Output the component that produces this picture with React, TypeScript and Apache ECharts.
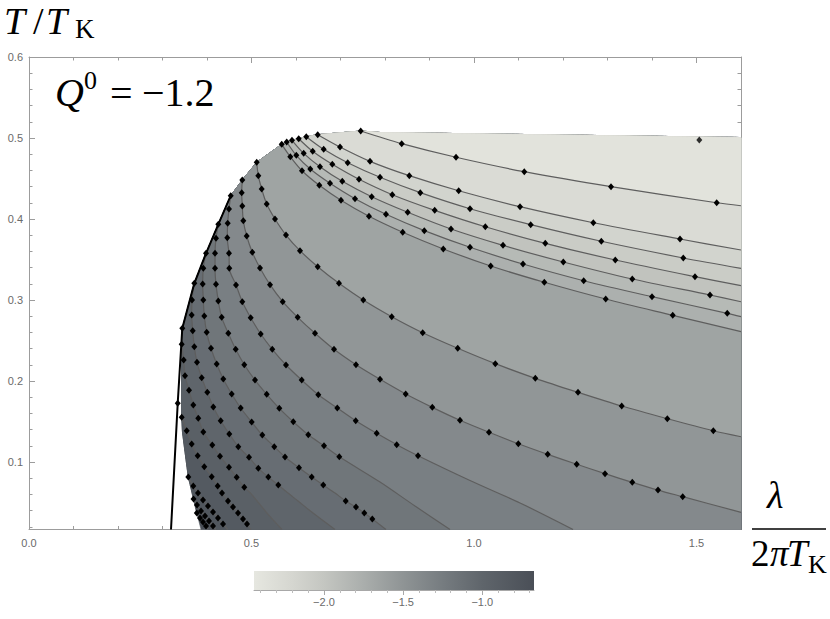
import React, { useEffect, useRef } from "react";
import * as echarts from "echarts";

// ---------- axes ----------
const X_MIN = 0;
const X_MAX = 1.6;
const Y_MIN = 0.0167;
const Y_MAX = 0.6;
const xMajorTicks = [0, 0.5, 1.0, 1.5];
const xMinorTicks = [0.1, 0.2, 0.3, 0.4, 0.6, 0.7, 0.8, 0.9, 1.1, 1.2, 1.3, 1.4];
const yMajorTicks = [0.1, 0.2, 0.3, 0.4, 0.5, 0.6];
const yMinorTicks = [0.02, 0.04, 0.06, 0.08, 0.12, 0.14, 0.16, 0.18, 0.22, 0.24, 0.26, 0.28, 0.32, 0.34, 0.36, 0.38, 0.42, 0.44, 0.46, 0.48, 0.52, 0.54, 0.56, 0.58];

// ---------- colour bar ----------
const CB_MIN = -2.442;
const CB_MAX = -0.673;
const cbMajorTicks = [-2.0, -1.5, -1.0];
const cbMinorTicks = [-2.4, -2.3, -2.2, -2.1, -1.9, -1.8, -1.7, -1.6, -1.4, -1.3, -1.2, -1.1, -0.9, -0.8, -0.7];
const cbStopValues = [-2.442, -2.2, -2.0, -1.75, -1.5, -1.25, -1.0, -0.673];
const cbStopColors = ["#e6e7e0", "#d5d6d0", "#c4c6c1", "#aaaeac", "#8f9495", "#767c80", "#5f656b", "#4a4f57"];

// ---------- domain boundary (clockwise from bottom-left) ----------
const boundary = [
  [0.3865, 0.0167], [0.3753, 0.0407], [0.3685, 0.0568], [0.358, 0.0815], [0.3506, 0.1123],
  [0.3449, 0.137], [0.3431, 0.1556], [0.3427, 0.1827], [0.3427, 0.2136], [0.3431, 0.2457],
  [0.3445, 0.2651], [0.3715, 0.3206], [0.3978, 0.3577], [0.4254, 0.3935], [0.4533, 0.4288],
  [0.4793, 0.4481], [0.5117, 0.47], [0.5679, 0.4922], [0.5791, 0.4951], [0.591, 0.4972],
  [0.6061, 0.4991], [0.6231, 0.5016], [0.6488, 0.5041], [0.7454, 0.5086], [0.7888, 0.5068],
  [1.6, 0.5006], [1.6, 0.0167],
];

// ---------- contour lines (third value 0 = no marker) ----------
const U1 = [[0.7454, 0.5086], [0.8375, 0.493], [0.9596, 0.4762], [1.113, 0.4584], [1.3079, 0.4399], [1.5454, 0.4201], [1.6, 0.4164, 0]];
const U2 = [[0.6488, 0.5041], [0.6989, 0.4889], [0.7663, 0.4712], [0.8546, 0.4535], [0.9656, 0.4349], [1.1034, 0.4152], [1.2681, 0.3954], [1.4629, 0.3753], [1.6, 0.3617, 0]];
const U3 = [[0.6231, 0.5016], [0.6622, 0.486], [0.7162, 0.4695], [0.7888, 0.4515], [0.8793, 0.4325], [0.991, 0.4127], [1.1274, 0.393], [1.2861, 0.3725], [1.4703, 0.3519], [1.6, 0.3391, 0]];
const U4 = [[0.6061, 0.4991], [0.6375, 0.4836], [0.6816, 0.4675], [0.7416, 0.449], [0.8164, 0.43], [0.9117, 0.4107], [1.0254, 0.3905], [1.1602, 0.37], [1.3175, 0.3494], [1.4966, 0.3288], [1.6, 0.3177, 0]];
const U5 = [[0.591, 0.4972], [0.6173, 0.4811], [0.6539, 0.4646], [0.704, 0.4465], [0.7701, 0.4275], [0.851, 0.4083], [0.9483, 0.3877], [1.0652, 0.3675], [1.2007, 0.3469], [1.3557, 0.3259], [1.5303, 0.3062], [1.6, 0.2979, 0]];
const U6 = [[0.5791, 0.4951], [0.6007, 0.4786], [0.6321, 0.4617], [0.6764, 0.4441], [0.7326, 0.4251], [0.8022, 0.4058], [0.8883, 0.3856], [0.991, 0.3651], [1.1101, 0.3444], [1.2465, 0.3238], [1.4, 0.3041], [1.5691, 0.2836], [1.6, 0.2794, 0]];
const U7 = [[0.5679, 0.4922], [0.5872, 0.4769], [0.6135, 0.4596], [0.6524, 0.4416], [0.7011, 0.4231], [0.764, 0.4033], [0.8398, 0.3836], [0.931, 0.363], [1.0375, 0.342], [1.158, 0.3219], [1.296, 0.3012], [1.4466, 0.2811], [1.6, 0.2609, 0]];
const L6 = [[0.5117, 0.47], [0.5153, 0.4535], [0.5229, 0.437], [0.5342, 0.4185], [0.5528, 0.4], [0.5775, 0.3802], [0.609, 0.3609], [0.6488, 0.3411], [0.6966, 0.3206], [0.7512, 0.3], [0.8151, 0.2794], [0.8847, 0.2596], [0.9634, 0.2404], [1.0479, 0.2214], [1.1378, 0.2033], [1.2337, 0.186], [1.3319, 0.1691], [1.4344, 0.1535], [1.5378, 0.1386], [1.6, 0.1312, 0]];
const L5 = [[0.4793, 0.4481], [0.478, 0.4325], [0.4793, 0.416], [0.4816, 0.3979], [0.4892, 0.379], [0.5018, 0.3589], [0.5191, 0.3395], [0.5416, 0.3189], [0.5701, 0.2979], [0.6038, 0.2786], [0.6427, 0.2589], [0.6854, 0.2391], [0.7348, 0.2201], [0.7888, 0.2021], [0.8465, 0.184], [0.9063, 0.1675], [0.9685, 0.1515], [1.0337, 0.1367], [1.0996, 0.1226], [1.1656, 0.1095], [1.2308, 0.0972], [1.2944, 0.0856], [1.3557, 0.0749], [1.4135, 0.0654], [1.469, 0.0572], [1.6, 0.0379, 0]];
const L4 = [[0.4533, 0.4288], [0.4494, 0.4123], [0.4465, 0.3947], [0.4456, 0.3769], [0.4494, 0.3577], [0.4501, 0.3391], [0.4652, 0.3185], [0.4793, 0.2979], [0.4982, 0.2781], [0.5207, 0.258], [0.5467, 0.2391], [0.5775, 0.2198], [0.6128, 0.2012], [0.6501, 0.1831], [0.6928, 0.1667], [0.7342, 0.151], [0.7813, 0.1354], [0.8263, 0.1214], [0.8742, 0.1078], [0.991, 0.0772, 0], [1.1034, 0.0494, 0], [1.2225, 0.0167, 0]];
const L3 = [[0.4254, 0.3935], [0.4202, 0.3762], [0.418, 0.3577], [0.418, 0.3391], [0.4202, 0.3194], [0.4254, 0.2988], [0.433, 0.2786], [0.4479, 0.2589], [0.4645, 0.2391], [0.4838, 0.2201], [0.5079, 0.2012], [0.5342, 0.1836], [0.5625, 0.1663], [0.5939, 0.1498], [0.6276, 0.1337], [0.6629, 0.1201], [0.6973, 0.1065], [0.7888, 0.0753, 0], [0.8674, 0.0457, 0], [0.9461, 0.0167, 0]];
const L2 = [[0.3978, 0.3577], [0.3917, 0.3391], [0.3903, 0.3198], [0.3917, 0.3], [0.3939, 0.2802], [0.3993, 0.2601], [0.409, 0.2404], [0.4218, 0.221], [0.4366, 0.2025], [0.4555, 0.184], [0.4757, 0.1667], [0.5004, 0.1494], [0.5243, 0.1333], [0.5512, 0.1189], [0.5753, 0.1062], [0.6067, 0.093], [0.6353, 0.0815], [0.6613, 0.0716], [0.6876, 0.0617, 0], [0.7117, 0.0519], [0.7348, 0.0444], [0.7535, 0.037], [0.7715, 0.0296], [0.8022, 0.0167, 0]];
const L1 = [[0.3715, 0.3206], [0.3663, 0.3], [0.3656, 0.2815], [0.3679, 0.2621], [0.3715, 0.2423], [0.3775, 0.2231], [0.3881, 0.2041], [0.4007, 0.186], [0.4142, 0.1679], [0.4308, 0.151], [0.4501, 0.1346], [0.4703, 0.1189], [0.4944, 0.1058], [0.5153, 0.0922], [0.5378, 0.0815], [0.5602, 0.0716], [0.582, 0.0617, 0], [0.6045, 0.0519, 0], [0.6382, 0.037, 0], [0.6876, 0.0167, 0]];
const L0 = [[0.3431, 0.2453], [0.3476, 0.2259], [0.3506, 0.2065], [0.3596, 0.1885], [0.3692, 0.1704], [0.3804, 0.154], [0.3917, 0.137], [0.4119, 0.121], [0.4292, 0.107], [0.4494, 0.0935], [0.4667, 0.0811], [0.4838, 0.0688], [0.4978, 0.0617, 0], [0.5124, 0.0519, 0], [0.5348, 0.037, 0], [0.5685, 0.0167, 0]];
const Lm1 = [[0.3431, 0.1552], [0.3544, 0.1386], [0.3656, 0.1222], [0.3791, 0.1078], [0.3939, 0.0942], [0.4106, 0.0819], [0.424, 0.0704], [0.4337, 0.0617], [0.4472, 0.0519], [0.4584, 0.0444], [0.4697, 0.037], [0.4809, 0.0296], [0.4899, 0.0235], [0.4989, 0.0167, 0]];
const Lm2 = [[0.358, 0.0815], [0.3692, 0.0704], [0.3798, 0.0617], [0.391, 0.0531], [0.4022, 0.0457], [0.4135, 0.0383], [0.4247, 0.0309], [0.436, 0.0235], [0.4461, 0.0167, 0]];
const Lm3 = [[0.3697, 0.0543], [0.3775, 0.0469], [0.3865, 0.0395], [0.3955, 0.0333], [0.4045, 0.0272], [0.4135, 0.021], [0.4202, 0.0167, 0]];
const Lm4 = [[0.3771, 0.037], [0.3843, 0.0309], [0.391, 0.0259], [0.3978, 0.021], [0.4034, 0.0167, 0]];

// contours from darkest to lightest, with the field value of the band on their light side
const contourOrder = [Lm4, Lm3, Lm2, Lm1, L0, L1, L2, L3, L4, L5, L6, U7, U6, U5, U4, U3, U2, U1];
const baseBandValue = -0.69;
const bandValues = [-0.73, -0.77, -0.83, -0.92, -1.0, -1.09, -1.18, -1.28, -1.39, -1.52, -1.65, -1.77, -1.87, -1.97, -2.07, -2.17, -2.27, -2.38];

// black boundary curve
const blackLine = [[0.3191, 0.0167, 0], [0.3342, 0.1725], [0.3445, 0.2651], [0.3715, 0.3206, 0], [0.3978, 0.3577, 0], [0.4254, 0.3935, 0], [0.4533, 0.4288, 0]];
const isolatedPoints = [[1.5063, 0.4975]];

function hexToRgb(h: string) {
  const n = parseInt(h.slice(1), 16);
  return [(n >> 16) & 255, (n >> 8) & 255, n & 255];
}
function cmap(v: number) {
  const vs = cbStopValues;
  if (v <= vs[0]) return cbStopColors[0];
  if (v >= vs[vs.length - 1]) return cbStopColors[vs.length - 1];
  let i = 0;
  while (v > vs[i + 1]) i++;
  const t = (v - vs[i]) / (vs[i + 1] - vs[i]);
  const a = hexToRgb(cbStopColors[i]);
  const b = hexToRgb(cbStopColors[i + 1]);
  const c = a.map((x, k) => Math.round(x + (b[k] - x) * t));
  return `rgb(${c[0]},${c[1]},${c[2]})`;
}

function project(B: number[][], P: number[]) {
  let best = Infinity;
  let param = 0;
  const n = B.length;
  for (let k = 0; k < n; k++) {
    const A = B[k];
    const C = B[(k + 1) % n];
    const dx = C[0] - A[0];
    const dy = C[1] - A[1];
    const L2 = dx * dx + dy * dy || 1;
    let t = ((P[0] - A[0]) * dx + (P[1] - A[1]) * dy) / L2;
    t = Math.max(0, Math.min(1, t));
    const qx = A[0] + dx * t - P[0];
    const qy = A[1] + dy * t - P[1];
    const d = qx * qx + qy * qy;
    if (d < best) {
      best = d;
      param = k + t;
    }
  }
  return param;
}

function lineData(pts: number[][]) {
  return pts.map((p) => (p[2] === 0 ? { value: [p[0], p[1]], symbol: "none" } : [p[0], p[1]]));
}

const SERIF = "'Liberation Serif', 'DejaVu Serif', serif";
const SANS = "'Liberation Sans', Arial, sans-serif";
const AXIS_GRAY = "#9c9c9c";
const LABEL_GRAY = "#6a6a6a";

function mathText(x: number, y: number, text: string, size: number, italic: boolean) {
  return {
    type: "text",
    x,
    y,
    style: { text, fontFamily: SERIF, fontStyle: italic ? "italic" : "normal", fontSize: size, fill: "#000", verticalAlign: "middle" },
  };
}

function buildOption() {
  const fillSeries = {
    type: "custom",
    xAxisIndex: 0,
    yAxisIndex: 0,
    z: 1,
    silent: true,
    data: [baseBandValue, ...bandValues].map((v, i) => [i, v]),
    renderItem: (params: any, api: any) => {
      const i = params.dataIndex;
      const B = boundary.map((p) => api.coord([p[0], p[1]]));
      let pts: number[][];
      let val: number;
      if (i === 0) {
        pts = B;
        val = baseBandValue;
      } else {
        const C = contourOrder[i - 1].map((p) => api.coord([p[0], p[1]]));
        const sS = project(B, C[0]);
        const sE = project(B, C[C.length - 1]);
        pts = C.slice();
        for (let j = Math.floor(sE); j > sS; j--) {
          if (j < B.length) pts.push(B[j]);
        }
        val = bandValues[i - 1];
      }
      return { type: "polygon", shape: { points: pts }, style: { fill: cmap(val), stroke: cmap(val), lineWidth: 0.5 } };
    },
  };

  const contourSeries = contourOrder.map((c) => ({
    type: "line",
    xAxisIndex: 0,
    yAxisIndex: 0,
    z: 3,
    data: lineData(c),
    smooth: 0.3,
    symbol: "diamond",
    symbolSize: [6, 7],
    showAllSymbol: true,
    itemStyle: { color: "#000" },
    lineStyle: { color: "#5e5e5e", width: 1.2 },
    silent: true,
  }));

  const blackSeries = {
    type: "line",
    xAxisIndex: 0,
    yAxisIndex: 0,
    z: 4,
    data: lineData(blackLine),
    symbol: "diamond",
    symbolSize: [6, 7],
    showAllSymbol: true,
    itemStyle: { color: "#000" },
    lineStyle: { color: "#000", width: 2 },
    silent: true,
  };

  const isoSeries = {
    type: "scatter",
    xAxisIndex: 0,
    yAxisIndex: 0,
    z: 4,
    data: isolatedPoints,
    symbol: "diamond",
    symbolSize: [6, 7],
    itemStyle: { color: "#000" },
  };

  const cbSeries = {
    type: "custom",
    xAxisIndex: 4,
    yAxisIndex: 4,
    z: 2,
    silent: true,
    data: [[CB_MIN, 0]],
    renderItem: (params: any, api: any) => {
      const p0 = api.coord([CB_MIN, 1]);
      const p1 = api.coord([CB_MAX, 0]);
      const stops = cbStopValues.map((v, k) => ({ offset: (v - CB_MIN) / (CB_MAX - CB_MIN), color: cbStopColors[k] }));
      return {
        type: "rect",
        shape: { x: p0[0], y: p0[1], width: p1[0] - p0[0], height: p1[1] - p0[1] },
        style: { fill: new echarts.graphic.LinearGradient(0, 0, 1, 0, stops) },
      };
    },
  };

  const fmt1 = (v: number) => (v < 0 ? "\u2212" + Math.abs(v).toFixed(1) : v.toFixed(1));

  const frameX = (position: string, ticks: number[], len: number, withLine: boolean, withLabel: boolean) => ({
    type: "value",
    gridIndex: 0,
    position,
    min: X_MIN,
    max: X_MAX,
    axisLine: { show: withLine, onZero: false, lineStyle: { color: AXIS_GRAY, width: 1 } },
    axisTick: { show: true, inside: true, length: len, customValues: ticks, lineStyle: { color: AXIS_GRAY } },
    axisLabel: withLabel
      ? { show: true, customValues: ticks, formatter: fmt1, color: LABEL_GRAY, fontSize: 11, fontFamily: SANS, margin: 8 }
      : { show: false },
    splitLine: { show: false },
  });
  const frameY = (position: string, ticks: number[], len: number, withLine: boolean, withLabel: boolean) => ({
    type: "value",
    gridIndex: 0,
    position,
    min: Y_MIN,
    max: Y_MAX,
    axisLine: { show: withLine, onZero: false, lineStyle: { color: AXIS_GRAY, width: 1 } },
    axisTick: { show: true, inside: true, length: len, customValues: ticks, lineStyle: { color: AXIS_GRAY } },
    axisLabel: withLabel
      ? { show: true, customValues: ticks, formatter: fmt1, color: LABEL_GRAY, fontSize: 11, fontFamily: SANS, margin: 6 }
      : { show: false },
    splitLine: { show: false },
  });

  return {
    animation: false,
    backgroundColor: "#fff",
    grid: [
      { left: 29, right: 89, top: 57, bottom: 89.5 },
      { left: 254, width: 280, top: 571, height: 19 },
    ],
    xAxis: [
      frameX("bottom", xMajorTicks, 6, true, true),
      frameX("bottom", xMinorTicks, 3.5, false, false),
      frameX("top", xMajorTicks, 6, true, false),
      frameX("top", xMinorTicks, 3.5, false, false),
      {
        type: "value",
        gridIndex: 1,
        position: "bottom",
        min: CB_MIN,
        max: CB_MAX,
        axisLine: { show: true, onZero: false, lineStyle: { color: "#a8a8a8" } },
        axisTick: { show: true, inside: false, length: 5, customValues: cbMajorTicks, lineStyle: { color: "#a8a8a8" } },
        axisLabel: { show: true, customValues: cbMajorTicks, formatter: fmt1, color: LABEL_GRAY, fontSize: 11, fontFamily: SANS, margin: 6 },
        splitLine: { show: false },
      },
      {
        type: "value",
        gridIndex: 1,
        position: "bottom",
        min: CB_MIN,
        max: CB_MAX,
        axisLine: { show: false },
        axisTick: { show: true, inside: false, length: 3, customValues: cbMinorTicks, lineStyle: { color: "#bdbdbd" } },
        axisLabel: { show: false },
        splitLine: { show: false },
      },
    ],
    yAxis: [
      frameY("left", yMajorTicks, 6, true, true),
      frameY("left", yMinorTicks, 3.5, false, false),
      frameY("right", yMajorTicks, 6, true, false),
      frameY("right", yMinorTicks, 3.5, false, false),
      { type: "value", gridIndex: 1, min: 0, max: 1, show: false },
    ],
    series: [fillSeries, ...contourSeries, blackSeries, isoSeries, cbSeries],
    graphic: [
      mathText(4, 21, "T", 38, true),
      mathText(33, 21, "/", 38, false),
      mathText(46, 21, "T", 38, true),
      mathText(75, 29, "K", 27, false),
      mathText(55, 92, "Q", 40, true),
      mathText(84, 80, "0", 26, false),
      mathText(110, 93, "=", 40, false),
      mathText(142, 92, "\u22121.2", 40, false),
      mathText(767, 495, "\u03bb", 38, true),
      { type: "line", shape: { x1: 752, y1: 529, x2: 826, y2: 529 }, style: { stroke: "#000", lineWidth: 1.3 } },
      mathText(751, 553, "2", 37, false),
      mathText(770, 553, "\u03c0", 37, true),
      mathText(787, 553, "T", 37, true),
      mathText(808, 564, "K", 26, false),
    ],
  };
}

export default function App() {
  const ref = useRef<HTMLDivElement>(null);
  useEffect(() => {
    if (!ref.current) return;
    const chart = echarts.init(ref.current, undefined, { renderer: "svg" });
    chart.setOption(buildOption() as any);
    return () => chart.dispose();
  }, []);
  return <div ref={ref} style={{ width: 830, height: 619, position: "absolute", left: 0, top: 0 }} />;
}
